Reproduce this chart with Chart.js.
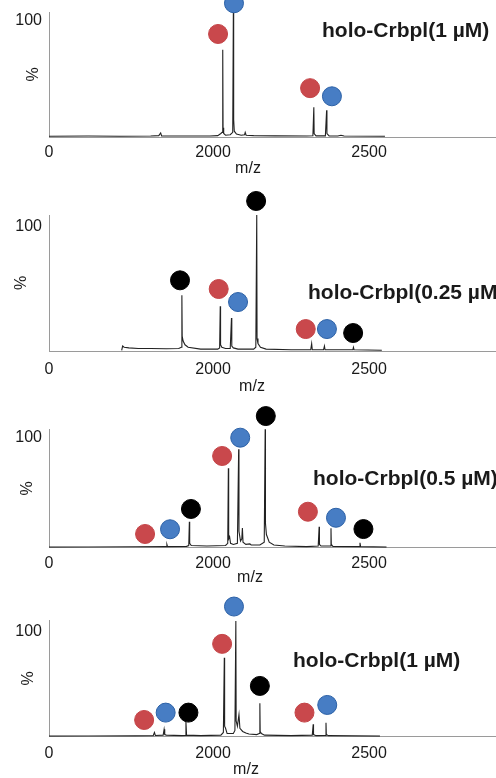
<!DOCTYPE html>
<html>
<head>
<meta charset="utf-8">
<title>holo-Crbpl mass spectra</title>
<script src="https://cdn.jsdelivr.net/npm/chart.js@4.4.1/dist/chart.umd.min.js"></script>
<style>
    body { margin: 0; background: #fff; }
    #wrap { position: relative; width: 496px; height: 778px; overflow: hidden; }
    .panel { position: absolute; left: 0; width: 496px; }
</style>
</head>
<body>
<div id="wrap">
    <div class="panel" style="top:0;height:185px"><canvas id="c1"></canvas></div>
    <div class="panel" style="top:185px;height:210px"><canvas id="c2"></canvas></div>
    <div class="panel" style="top:395px;height:190px"><canvas id="c3"></canvas></div>
    <div class="panel" style="top:585px;height:193px"><canvas id="c4"></canvas></div>
</div>
<script>
// ---- data ----
// left end of the m/z axis is printed as "0" in the figure
const xTickValues = [1474, 2000, 2500];
const xTickLabels = ['0', '2000', '2500'];
const xMin = 1474;
const xMax = 2907;
const yTickValues = [100];
const xTitle = 'm/z';
const yTitle = '%';

const panelTitles = ['holo-Crbpl(1 µM)', 'holo-Crbpl(0.25 µM)', 'holo-Crbpl(0.5 µM)', 'holo-Crbpl(1 µM)'];
const yMax = [107.5, 109.7, 108.2, 111];

// spectra: [m/z, relative intensity %]
const spectrum1 = [
    [1474, 0.6], [1600, 0.8], [1700, 0.6], [1800, 0.9], [1826, 1.2], [1832, 3.5], [1835, 1],
    [1900, 0.8], [1990, 0.9], [2015, 1.2], [2025, 3], [2029, 4], [2031, 75], [2032, 8], [2034, 3],
    [2040, 1.5], [2055, 2], [2063, 4], [2065, 107], [2066, 15], [2068, 5], [2075, 2.5], [2090, 1.5],
    [2101, 2], [2103, 4], [2106, 1.5], [2130, 1.2], [2200, 1], [2300, 0.8], [2320, 1], [2323, 25.5],
    [2324, 3], [2330, 1], [2360, 1], [2364, 23], [2365, 3], [2372, 1], [2400, 0.9], [2410, 1.5],
    [2420, 0.8], [2551, 0.6]
];
const spectrum2 = [
    [1707, 0.5], [1710, 4], [1715, 3], [1730, 2.5], [1760, 2], [1800, 2], [1850, 1.8], [1890, 2],
    [1898, 3], [1900, 45], [1901, 12], [1904, 8], [1910, 5], [1920, 3], [1960, 1.5], [2015, 1.5],
    [2021, 2.5], [2023, 36], [2024, 5], [2028, 3], [2040, 2], [2055, 2], [2059, 26.6], [2060, 4],
    [2065, 2.5], [2080, 1.5], [2130, 1.5], [2137, 3], [2140, 109.7], [2141, 10], [2144, 6], [2152, 3],
    [2170, 1.5], [2250, 1], [2313, 1], [2316, 6], [2318, 1], [2354, 1], [2357, 4], [2359, 1],
    [2448, 1], [2450, 3], [2452, 1], [2541, 0.6]
];
const spectrum3 = [
    [1474, 0.5], [1600, 0.7], [1750, 0.8], [1850, 1], [1852, 3], [1854, 1], [1915, 1.2], [1922, 2],
    [1924, 23.7], [1925, 4], [1930, 2], [1980, 1.5], [2040, 2], [2047, 4], [2049, 72.4], [2050, 8],
    [2053, 10], [2056, 4], [2065, 3], [2078, 4], [2082, 89.7], [2083, 15], [2088, 6], [2092, 8],
    [2094, 18], [2096, 5], [2105, 3], [2118, 3.5], [2122, 2.5], [2150, 2.5], [2164, 5], [2167, 108],
    [2168, 22], [2171, 12], [2180, 5], [2195, 2.5], [2230, 1.5], [2300, 1], [2337, 1.5], [2340, 19],
    [2341, 3], [2346, 1.5], [2375, 1.5], [2378, 17.7], [2379, 3], [2384, 1.2], [2468, 1], [2471, 4.5],
    [2473, 1], [2556, 0.5]
];
const spectrum4 = [
    [1474, 0.5], [1600, 0.7], [1750, 0.8], [1808, 1], [1812, 4], [1815, 1.2], [1840, 1.5], [1843, 7],
    [1845, 2], [1850, 1.5], [1900, 1], [1911, 1.2], [1913, 14], [1915, 1.5], [1960, 1], [2025, 1.5],
    [2033, 4], [2036, 75], [2037, 10], [2040, 8], [2045, 3], [2065, 3], [2070, 6], [2073, 110],
    [2074, 15], [2078, 10], [2083, 21], [2086, 8], [2095, 5], [2105, 3.5], [2115, 2.5], [2140, 2],
    [2148, 3], [2150, 31.7], [2151, 5], [2155, 3], [2165, 1.5], [2250, 1], [2318, 1.5], [2321, 11.8],
    [2322, 2], [2330, 1], [2359, 1.2], [2362, 13.3], [2363, 2], [2370, 1], [2535, 0.5]
];

// peak markers: [m/z, %]
const redMarks1 = [[2016, 88.6], [2311, 42]];
const blueMarks1 = [[2067, 115], [2381, 35]];
const blackMarks1 = [];

const redMarks2 = [[2018, 50], [2297, 17.7]];
const blueMarks2 = [[2080, 39.5], [2365, 17.7]];
const blackMarks2 = [[1894, 57], [2138, 121], [2449, 14.5]];

const redMarks3 = [[1782, 12.5], [2029, 83.6], [2304, 32.8]];
const blueMarks3 = [[1862, 16.8], [2087, 100.3], [2394, 27.3]];
const blackMarks3 = [[1929, 35.3], [2169, 120], [2482, 17]];

const redMarks4 = [[1779, 15.9], [2029, 88.3], [2293, 22.9]];
const blueMarks4 = [[1848, 22.9], [2067, 123.8], [2366, 30.2]];
const blackMarks4 = [[1921, 22.9], [2150, 48.3]];

// ---- drawing ----
const FONT = '"Liberation Sans", Arial, Helvetica, sans-serif';
const TEXT = '#1a1a1a';

const toPts = (arr) => arr.map((p) => ({ x: p[0], y: p[1] }));

// panel title and x axis title, positioned in canvas pixels
const panelText = {
    id: 'panelText',
    afterDraw(chart, args, opts) {
        const ctx = chart.ctx;
        ctx.save();
        ctx.fillStyle = TEXT;
        ctx.font = 'bold 21px ' + FONT;
        ctx.textAlign = 'left';
        ctx.textBaseline = 'alphabetic';
        ctx.fillText(opts.title, opts.titleX, opts.titleY);
        ctx.font = '16px ' + FONT;
        ctx.textAlign = 'center';
        ctx.textBaseline = 'middle';
        ctx.fillText(xTitle, opts.unitX, opts.unitY);
        ctx.restore();
    },
};

function markerSet(data, fill, border) {
    return {
        type: 'scatter',
        data: toPts(data),
        pointRadius: 9.5,
        // large hover radius widens the out-of-area margin so peaks' top markers still draw
        pointHoverRadius: 30,
        pointBackgroundColor: fill,
        pointBorderColor: border,
        pointBorderWidth: 1,
        showLine: false,
        clip: false,
        order: 1,
    };
}

function buildPanel(id, i, spectrum, red, blue, black, lay) {
    const ctx = document.getElementById(id).getContext('2d');
    return new Chart(ctx, {
        type: 'scatter',
        data: {
            datasets: [
                {
                    data: toPts(spectrum),
                    showLine: true,
                    borderColor: '#222',
                    borderWidth: 1.1,
                    pointRadius: 0,
                    tension: 0,
                    order: 2,
                },
                markerSet(red, '#c9484c', '#c44447'),
                markerSet(blue, '#477dc4', '#2c61a6'),
                markerSet(black, '#000', '#000'),
            ],
        },
        options: {
            responsive: true,
            maintainAspectRatio: false,
            animation: false,
            events: [],
            layout: { autoPadding: false, padding: { top: lay.top, left: 0, right: 0, bottom: 0 } },
            plugins: {
                legend: { display: false },
                tooltip: { enabled: false },
                panelText: {
                    title: panelTitles[i],
                    titleX: lay.titleX,
                    titleY: lay.titleY,
                    unitX: lay.unitX,
                    unitY: lay.unitY,
                },
            },
            scales: {
                x: {
                    type: 'linear',
                    min: xMin,
                    max: xMax,
                    grid: { display: false, drawTicks: false },
                    border: { display: true, color: '#9a9a9a', width: 1 },
                    afterBuildTicks: (s) => { s.ticks = xTickValues.map((v) => ({ value: v })); },
                    afterFit: (s) => {
                        s.height = lay.xh;
                        s.paddingLeft = 0;
                        s.paddingRight = 0;
                    },
                    ticks: {
                        autoSkip: false,
                        maxRotation: 0,
                        padding: lay.xpad,
                        color: TEXT,
                        font: { family: FONT, size: 16 },
                        callback: (v) => xTickLabels[xTickValues.indexOf(v)],
                    },
                },
                y: {
                    type: 'linear',
                    min: 0,
                    max: yMax[i],
                    grid: { display: false, drawTicks: false },
                    border: { display: true, color: '#9a9a9a', width: 1 },
                    afterBuildTicks: (s) => { s.ticks = yTickValues.map((v) => ({ value: v })); },
                    afterFit: (s) => {
                        s.width = 49;
                        s.paddingTop = 0;
                        s.paddingBottom = 0;
                    },
                    ticks: {
                        padding: 7,
                        color: TEXT,
                        font: { family: FONT, size: 16 },
                    },
                    title: {
                        display: true,
                        text: yTitle,
                        color: TEXT,
                        font: { family: FONT, size: 16 },
                        padding: { top: lay.ytp, bottom: 0 },
                    },
                },
            },
        },
        plugins: [panelText],
    });
}

buildPanel('c1', 0, spectrum1, redMarks1, blueMarks1, blackMarks1,
    { top: 12, xh: 48, xpad: 6, ytp: 24, titleX: 322, titleY: 37, unitX: 248, unitY: 169 });
buildPanel('c2', 1, spectrum2, redMarks2, blueMarks2, blackMarks2,
    { top: 30, xh: 44, xpad: 9, ytp: 12, titleX: 308, titleY: 114, unitX: 252, unitY: 202 });
buildPanel('c3', 2, spectrum3, redMarks3, blueMarks3, blackMarks3,
    { top: 34, xh: 37.3, xpad: 6, ytp: 18, titleX: 313, titleY: 90, unitX: 250, unitY: 183 });
buildPanel('c4', 3, spectrum4, redMarks4, blueMarks4, blackMarks4,
    { top: 35, xh: 41.3, xpad: 7, ytp: 19, titleX: 293, titleY: 82, unitX: 246, unitY: 185 });
</script>
</body>
</html>
